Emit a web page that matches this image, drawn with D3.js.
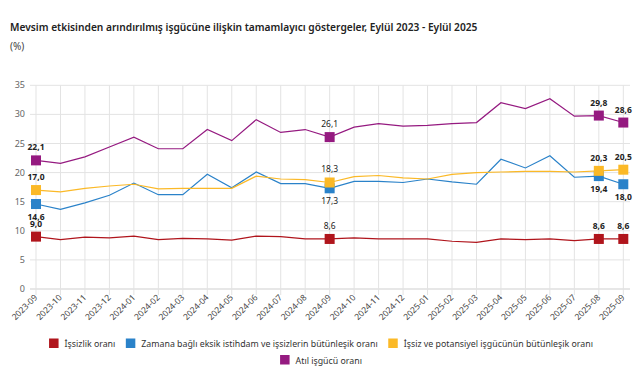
<!doctype html>
<html>
<head>
<meta charset="utf-8"/>
<title>İşgücü göstergeleri</title>
<script src="https://d3js.org/d3.v7.min.js"></script>
<style>
body{margin:0;background:#fff;}
svg{font-family:"Noto Sans",sans-serif;}
</style>
</head>
<body>
<script>
// aylar
var months = ["2023-09","2023-10","2023-11","2023-12","2024-01","2024-02","2024-03","2024-04","2024-05","2024-06","2024-07","2024-08","2024-09","2024-10","2024-11","2024-12","2025-01","2025-02","2025-03","2025-04","2025-05","2025-06","2025-07","2025-08","2025-09"];

var issizlik   = [9.0,8.5,8.9,8.8,9.1,8.5,8.7,8.6,8.4,9.1,9.0,8.6,8.6,8.8,8.6,8.6,8.6,8.2,8.0,8.6,8.5,8.6,8.3,8.6,8.6];
var zamanaBagli = [14.6,13.7,14.8,16.1,18.2,16.2,16.2,19.7,17.4,20.1,18.1,18.1,17.3,18.5,18.5,18.3,18.9,18.4,18.0,22.3,20.8,22.9,19.2,19.4,18.0];
var potansiyel = [17.0,16.7,17.3,17.7,18.0,17.2,17.3,17.3,17.3,19.4,18.9,18.8,18.3,19.3,19.5,19.1,18.9,19.7,20.0,20.1,20.2,20.2,20.1,20.3,20.5];
var atil       = [22.1,21.6,22.7,24.4,26.1,24.1,24.1,27.4,25.5,29.1,26.9,27.4,26.1,27.8,28.4,28.0,28.1,28.4,28.6,32.0,31.0,32.7,29.7,29.8,28.6];

var seriesNames = ["İşsizlik oranı","Zamana bağlı eksik istihdam ve işsizlerin bütünleşik oranı","İşsiz ve potansiyel işgücünün bütünleşik oranı","Atıl işgücü oranı"];
var seriesColors = ["#b0151c","#2a82c9","#fbb927","#951a80"];
var yTicks = [0,5,10,15,20,25,30,35];
var markIdx = [0,12,23,24];
// etiket yonu: -1 ustte, 1 altta
var labelDir = [-1,1,-1,-1];

var W = 644, H = 379;
var svg = d3.select("body").append("svg").attr("width", W).attr("height", H);

svg.append("text").attr("x",10).attr("y",31)
  .attr("font-size",10.2).attr("font-weight",600).attr("fill","#222")
  .text("Mevsim etkisinden arındırılmış işgücüne ilişkin tamamlayıcı göstergeler, Eylül 2023 - Eylül 2025");
svg.append("text").attr("x",10).attr("y",50)
  .attr("font-size",10).attr("fill","#444").text("(%)");

var x = d3.scalePoint().domain(months).range([36,623.3]);
var y = d3.scaleLinear().domain([0,35]).range([289,85.3]);

// yatay izgara
svg.append("g").selectAll("line").data(yTicks).join("line")
  .attr("x1",30).attr("x2",630)
  .attr("y1",d=>y(d)).attr("y2",d=>y(d))
  .attr("stroke",d=>d==0?"#cfcfcf":"#e3e3e3").attr("stroke-width",1);
svg.append("g").selectAll("text").data(yTicks).join("text")
  .attr("x",25).attr("y",d=>y(d)+3)
  .attr("text-anchor","end").attr("font-size",9).attr("fill","#666")
  .text(d=>d);

// dikey izgara
svg.append("g").selectAll("line").data(months).join("line")
  .attr("x1",d=>x(d)).attr("x2",d=>x(d))
  .attr("y1",85.3).attr("y2",295)
  .attr("stroke","#e3e3e3").attr("stroke-width",1);
svg.append("g").selectAll("text").data(months).join("text")
  .attr("transform",d=>"translate("+(x(d)+2)+",298) rotate(-45)")
  .attr("text-anchor","end").attr("font-size",8.5).attr("fill","#444")
  .text(d=>d);

var allSeries = [issizlik, zamanaBagli, potansiyel, atil];
var line = d3.line().x((d,i)=>x(months[i])).y(d=>y(d));

allSeries.forEach(function(s,k){
  svg.append("path").datum(s)
    .attr("d",line).attr("fill","none")
    .attr("stroke",seriesColors[k]).attr("stroke-width",1.2);
});

allSeries.forEach(function(s,k){
  var g = svg.append("g");
  g.selectAll("rect").data(markIdx).join("rect")
    .attr("x",i=>x(months[i])-5).attr("y",i=>y(s[i])-5)
    .attr("width",10).attr("height",10)
    .attr("fill",seriesColors[k]);
  g.selectAll("text").data(markIdx).join("text")
    .attr("x",i=>x(months[i]))
    .attr("y",i=>y(s[i]) + (labelDir[k]<0 ? -10 : 16))
    .attr("text-anchor","middle").attr("font-size",8.5)
    .attr("font-weight",i=>(i==12?400:700)).attr("fill","#222")
    .text(i=>s[i].toFixed(1).replace(".",","));
});

// lejant
function legendRow(items, yy){
  var g = svg.append("g");
  var xx = 0;
  items.forEach(function(k){
    g.append("rect").attr("x",xx).attr("y",yy-5).attr("width",9.5).attr("height",9.5)
      .attr("fill",seriesColors[k]);
    var t = g.append("text").attr("x",xx+15.5).attr("y",yy+3.5)
      .attr("font-size",8.8).attr("fill","#333").text(seriesNames[k]);
    xx += 15.5 + t.node().getComputedTextLength() + 10.5;
  });
  var w = xx - 10.5;
  g.attr("transform","translate("+((W - w)/2 - 1)+",0)");
}
legendRow([0,1,2], 343.5);
legendRow([3], 360);
</script>
</body>
</html>
